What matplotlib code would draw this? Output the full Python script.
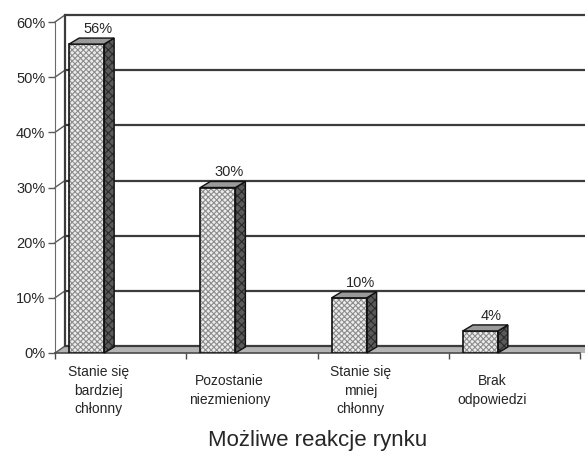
import numpy as np
import matplotlib
matplotlib.use("Agg")
import matplotlib.pyplot as plt
from matplotlib.patches import Polygon

# --- data -------------------------------------------------------------
categories = ["Stanie się\nbardziej\nchłonny",
              "Pozostanie\nniezmieniony",
              "Stanie się\nmniej\nchłonny",
              "Brak\nodpowiedzi"]
values = [56, 30, 10, 4]                 # percent
y_ticks = [0, 10, 20, 30, 40, 50, 60]
y_tick_labels = [f"{v}%" for v in y_ticks]
x_title = "Możliwe reakcje rynku"

# --- style ------------------------------------------------------------
plt.rcParams["font.family"] = ["Liberation Sans", "DejaVu Sans"]
plt.rcParams["hatch.linewidth"] = 0.8
TEXT = "#262626"
GRID = "#3c3c3c"
W, H = 585, 458

fig = plt.figure(figsize=(W / 100, H / 100), dpi=100)
ax = fig.add_axes([55 / W, 105 / H, 525 / W, 331 / H])
ax.set_xlim(-0.5, 3.5)
ax.set_ylim(0, 60)
for s in ("top", "right"):
    ax.spines[s].set_visible(False)
ax.spines["left"].set_color("#6a6a6a")
ax.spines["bottom"].set_color("#4a4a4a")
ax.spines["bottom"].set_linewidth(1.2)
ax.patch.set_visible(False)

# depth of the 3-D box expressed in data units (pixel offsets -> data)
inv = ax.transData.inverted()
o = ax.transData.transform((0, 0))
ddx, ddy = inv.transform(o + np.array([10, 7])) - np.array([0, 0])
bdx, bdy = inv.transform(o + np.array([10, 6])) - np.array([0, 0])

x_left, x_right = -0.5, 3.62

# floor
ax.add_patch(Polygon([(x_left, 0), (x_right, 0), (x_right + ddx, ddy),
                      (x_left + ddx, ddy)], closed=True, facecolor="#b4b4b4",
                     edgecolor="none", clip_on=False, zorder=1))

# back wall gridlines, left wall edge and corner lines
for yv in y_ticks:
    ax.plot([x_left + ddx, x_right + ddx], [yv + ddy, yv + ddy], color=GRID,
            lw=1.6, clip_on=False, zorder=2, solid_capstyle="butt")
    ax.plot([x_left, x_left + ddx], [yv, yv + ddy], color="#5a5a5a", lw=1.0,
            clip_on=False, zorder=2)
ax.plot([x_left + ddx, x_left + ddx], [ddy, 60 + ddy], color=GRID, lw=1.6,
        clip_on=False, zorder=2)

# bars: hatched front face, darker side and top
pos = np.arange(len(values))
bar_w = 0.267
bar_x = pos - 0.259
ax.bar(bar_x, values, width=bar_w, color="#ececec", edgecolor="#8c8c8c",
       hatch="xxxxxx", linewidth=0, zorder=4)
ax.bar(bar_x, values, width=bar_w, facecolor="none", edgecolor="#111111",
       linewidth=1.2, zorder=5)
for xc, v in zip(bar_x, values):
    x1 = xc + bar_w / 2
    x0 = xc - bar_w / 2
    side = [(x1, 0), (x1, v), (x1 + bdx, v + bdy), (x1 + bdx, bdy)]
    top = [(x0, v), (x1, v), (x1 + bdx, v + bdy), (x0 + bdx, v + bdy)]
    ax.add_patch(Polygon(side, closed=True, facecolor="#5a5a5a",
                         edgecolor="#2a2a2a", hatch="xxxx", linewidth=0,
                         clip_on=False, zorder=4))
    ax.add_patch(Polygon(side, closed=True, facecolor="none",
                         edgecolor="#111111", linewidth=1.0, clip_on=False,
                         zorder=5))
    ax.add_patch(Polygon(top, closed=True, facecolor="#9a9a9a",
                         edgecolor="#111111", linewidth=1.0, clip_on=False,
                         zorder=5))
    ax.annotate(f"{v}%", xy=(xc, v), xytext=(11, 15),
                textcoords="offset pixels", ha="center", va="center",
                fontsize=10.5, color=TEXT, zorder=6)

# axes ticks and labels
ax.set_yticks(y_ticks)
ax.set_yticklabels(y_tick_labels, fontsize=10.5, color=TEXT)
ax.tick_params(axis="y", direction="out", length=5, width=1,
               color="#5a5a5a", pad=2)

ax.set_xticks(np.arange(-0.5, 3.6, 1.0))
ax.set_xticklabels([])
ax.tick_params(axis="x", which="major", direction="out", length=4, width=1,
               color="#4a4a4a")
ax.set_xticks(pos - 0.17, minor=True)
ax.set_xticklabels(categories, minor=True, fontsize=10, color=TEXT,
                   va="center", linespacing=1.45)
ax.tick_params(axis="x", which="minor", length=0, pad=27)

ax.set_xlabel(x_title, fontsize=16, color=TEXT, labelpad=10)

fig.savefig("out.png", dpi=100)
